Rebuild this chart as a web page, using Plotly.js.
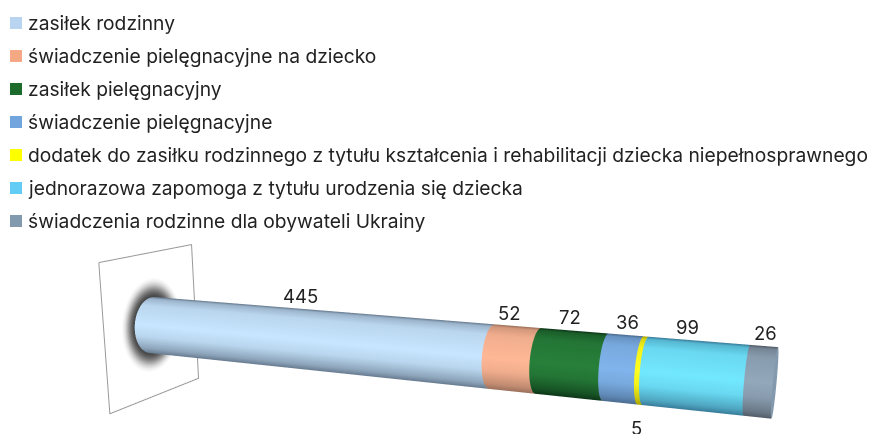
<!DOCTYPE html>
<html><head><meta charset="utf-8">
<script src="https://cdn.plot.ly/plotly-3.0.1.min.js"></script>
<style>html,body{margin:0;padding:0;background:#fff;overflow:hidden}
#wrap{position:relative;width:870px;height:434px;overflow:hidden}
#plot{position:absolute;left:-19px;top:-70px;width:890px;height:841px}</style></head>
<body><div id="wrap"><div id="plot"></div></div>
<script>
const categories=["zasiłek rodzinny","świadczenie pielęgnacyjne na dziecko","zasiłek pielęgnacyjny","świadczenie pielęgnacyjne","dodatek do zasiłku rodzinnego z tytułu kształcenia i rehabilitacji dziecka niepełnosprawnego","jednorazowa zapomoga z tytułu urodzenia się dziecka","świadczenia rodzinne dla obywateli Ukrainy"];
const values=[445,52,72,36,5,99,26];
const swatchColors=["#b9d4f0","#f4a883","#1c6a2c","#72a5dd","#ffff00","#62ccf5","#8399ad"];
const edgeColors=["#66798e","#9a6f5a","#0c3517","#496a8e","#a8a000","#377a98","#515b66"];
const midColors=["#c8e6ff","#ffb896","#27803a","#80b4ec","#ffff20","#72e8ff","#92a8bb"];
const labelShiftX=[-9,-7,-3,3,-5,-10,2];
const labelShiftY=[-2,-2,-2,-2,-14,-2,-2];
const W=890,H=841,OX=19,OY=70;
const R=35,WALL=90;
const total=values.reduce((a,b)=>a+b,0);
const rangeX=[0,total],K=total;
const C={x:785.3,y:-1013.8,z:253.8};
const tilt=12.7*Math.PI/180;
const N=96;
const thetas=[...Array(N+1).keys()].map(i=>i/N*2*Math.PI);
function hex(c){return [1,3,5].map(i=>parseInt(c.substr(i,2),16));}
function mix(a,b,t){const A=hex(a),B=hex(b);return 'rgb('+A.map((v,i)=>Math.round(v+(B[i]-v)*t)).join(',')+')';}
function scale(mid,edge){return [[0,edge],[0.04,mix(edge,mid,.55)],[0.16,mix(edge,mid,.85)],[0.5,mid],[0.7,mix(edge,mid,.85)],[0.9,mix(edge,mid,.4)],[1,edge]];}
const traces=[];
let cum=0;const labels=[];
const flat={ambient:1,diffuse:0,specular:0,roughness:1,fresnel:0};
values.forEach((v,i)=>{
  const a=cum,b=cum+v;cum=b;
  const xs=thetas.map(()=>[a,b]);
  const ys=thetas.map(t=>[R*Math.cos(t),R*Math.cos(t)]);
  const zs=thetas.map(t=>[R*Math.sin(t),R*Math.sin(t)]);
  const sc=thetas.map(t=>{const s=(Math.sin(t)*Math.cos(tilt)+Math.cos(t)*Math.sin(tilt)+1)/2;return [1-s,1-s];});
  traces.push({type:'surface',x:xs,y:ys,z:zs,surfacecolor:sc,cmin:0,cmax:1,colorscale:scale(midColors[i],edgeColors[i]),showscale:false,lighting:flat,name:categories[i],hoverinfo:'name'});
  labels.push({x:(a+b)/2,y:0,z:i===4?-R:R,text:String(v),showarrow:false,yanchor:i===4?'top':'bottom',xshift:labelShiftX[i],yshift:labelShiftY[i]+3,font:{family:'Inter',size:18.5,color:'#222'}});
});
traces.push({type:'scatter3d',mode:'lines',x:[0,0,0,0,0],y:[-WALL,WALL,WALL,-WALL,-WALL],z:[WALL,WALL,-WALL,-WALL,WALL],line:{color:'#999999',width:2},hoverinfo:'skip',showlegend:false});
const rr=[R-3,R,R+4,R+8,R+12,R+16,R+20,R+24];
traces.push({type:'surface',
  x:thetas.map(()=>rr.map(()=>0)),
  y:thetas.map(t=>rr.map(r=>r*Math.cos(t))),
  z:thetas.map(t=>rr.map(r=>r*Math.sin(t))),
  surfacecolor:thetas.map(()=>rr.map((r,j)=>j)),cmin:0,cmax:7,
  colorscale:[[0,'#454545'],[1/7,'#454545'],[2/7,'#5a5a5a'],[3/7,'#7d7d7d'],[4/7,'#a8a8a8'],[5/7,'#d2d2d2'],[6/7,'#f0f0f0'],[1,'#ffffff']],showscale:false,lighting:flat,hoverinfo:'skip'});
traces.push({type:'surface',
  x:thetas.map(()=>[total,total]),
  y:thetas.map(t=>[0,R*Math.cos(t)]),
  z:thetas.map(t=>[0,R*Math.sin(t)]),
  surfacecolor:thetas.map(()=>[0,0]),cmin:0,cmax:1,colorscale:[[0,swatchColors[6]],[1,swatchColors[6]]],showscale:false,lighting:flat,hoverinfo:'skip'});
const cx=(rangeX[0]+rangeX[1])/2;
const ax=r=>({range:r,visible:false,showgrid:false,zeroline:false,showbackground:false,showspikes:false,title:{text:''}});
const annotations=categories.map((c,i)=>({xref:'paper',yref:'paper',x:(28+OX)/W,y:1-(23+33*i+OY)/H,xanchor:'left',yanchor:'middle',showarrow:false,align:'left',text:c,font:{family:'Inter',size:19.25,color:'#222'},xshift:-2}));
const shapes=categories.map((c,i)=>({type:'rect',xref:'paper',yref:'paper',x0:(10+OX)/W,x1:(22+OX)/W,y0:1-(17+33*i+OY)/H,y1:1-(29+33*i+OY)/H,fillcolor:swatchColors[i],line:{width:0}}));
Plotly.newPlot('plot',traces,{width:W,height:H,margin:{l:0,r:0,t:0,b:0},paper_bgcolor:'#fff',showlegend:false,annotations,shapes,
 scene:{domain:{x:[0,1],y:[0,1]},aspectmode:'manual',aspectratio:{x:(rangeX[1]-rangeX[0])/K,y:2*WALL/K,z:2*WALL/K},
  xaxis:ax(rangeX),yaxis:ax([-WALL,WALL]),zaxis:ax([-WALL,WALL]),bgcolor:'rgba(0,0,0,0)',annotations:labels,
  camera:{projection:{type:'perspective'},up:{x:0,y:0,z:1},center:{x:0,y:0,z:0},eye:{x:(C.x-cx)/K,y:C.y/K,z:C.z/K}}}
},{displayModeBar:false});
</script></body></html>
